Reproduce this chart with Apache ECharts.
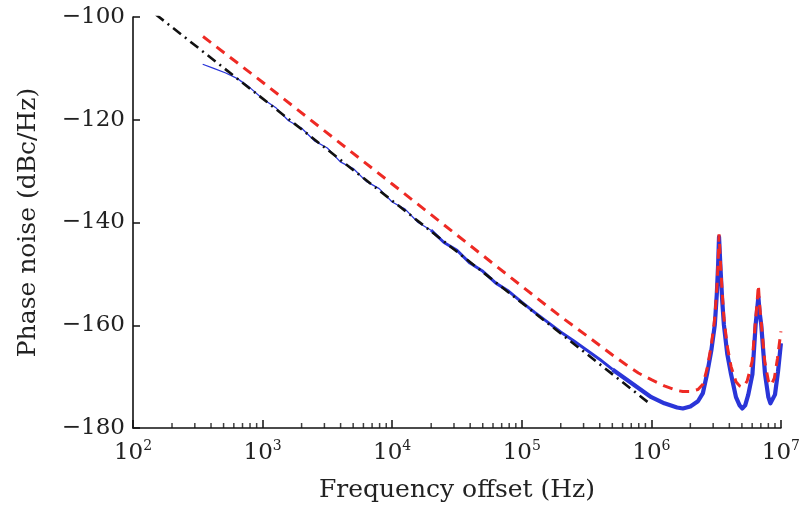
<!DOCTYPE html>
<html>
<head>
<meta charset="utf-8">
<script src="https://cdn.jsdelivr.net/npm/echarts@6/dist/echarts.min.js"></script>
<style>html,body{margin:0;padding:0;background:#fff}#c{width:803px;height:508px}</style>
</head>
<body>
<div id="c"></div>
<script>
// ---- data ----
const xExponents = [2, 3, 4, 5, 6, 7];
const yTicks = [-100, -120, -140, -160, -180];
const xTitle = 'Frequency offset (Hz)';
const yTitle = 'Phase noise (dBc/Hz)';

// black dash-dot asymptote
const asymFreq = [150, 1.0e6];
const asymVal  = [-99.5, -175.5];

// blue measured (thin part)
const blueAFreq = [345, 420, 520, 640, 794, 1000, 1259, 1585, 1995, 2512, 3162, 3981, 5012, 6310, 7943, 10000, 12589, 15849, 19953];
const blueAVal  = [-109.2, -110.0, -110.9, -112.0, -113.7, -115.9, -117.6, -120.2, -121.6, -124.1, -125.5, -128.2, -129.5, -132.0, -133.4, -136.0, -137.4, -140.0, -141.5];
// blue measured (medium part)
const blueBFreq = [19953, 25119, 31623, 39811, 50119, 63096, 79433, 1.0e5, 1.259e5, 1.585e5, 1.995e5, 2.512e5, 3.162e5, 3.981e5, 5.012e5];
const blueBVal  = [-141.5, -143.9, -145.4, -147.9, -149.5, -151.8, -153.4, -155.5, -157.5, -159.4, -161.3, -163.0, -164.8, -166.6, -168.6];
// blue measured (dense part, floor and spurs)
const blueCFreq = [5.012e5, 6.31e5, 7.943e5, 1.0e6, 1.26e6, 1.58e6, 1.75e6, 2.0e6, 2.29e6, 2.5e6, 2.69e6, 2.9e6, 3.09e6, 3.2e6, 3.28e6, 3.33e6, 3.42e6, 3.52e6, 3.63e6, 3.85e6, 4.12e6, 4.5e6, 4.8e6, 5.03e6, 5.3e6, 5.6e6, 6.03e6, 6.38e6, 6.55e6, 6.7e6, 6.85e6, 7.05e6, 7.54e6, 8.0e6, 8.3e6, 8.57e6, 9.0e6, 9.5e6, 1.0e7];
const blueCVal  = [-168.6, -170.4, -172.2, -174.0, -175.2, -176.0, -176.2, -175.8, -174.8, -173.2, -169.5, -165.0, -159.9, -154.0, -148.0, -142.8, -149.0, -155.0, -159.9, -165.5, -169.5, -174.0, -175.6, -176.2, -175.6, -173.5, -169.5, -159.9, -157.0, -154.5, -157.5, -159.9, -169.5, -174.0, -175.2, -175.5, -173.5, -169.0, -163.5];

// red dashed model
const redFreq = [347, 1000, 10000, 1.0e5, 1.995e5, 3.162e5, 3.981e5, 5.012e5, 6.31e5, 7.943e5, 1.0e6, 1.26e6, 1.58e6, 1.75e6, 2.0e6, 2.29e6, 2.5e6, 2.69e6, 2.9e6, 3.09e6, 3.2e6, 3.28e6, 3.33e6, 3.42e6, 3.52e6, 3.63e6, 3.85e6, 4.12e6, 4.5e6, 4.8e6, 5.0e6, 5.2e6, 5.5e6, 6.0e6, 6.35e6, 6.55e6, 6.7e6, 6.85e6, 7.05e6, 7.5e6, 8.0e6, 8.4e6, 8.9e6, 9.4e6, 1.0e7];
const redVal  = [-103.8, -112.7, -132.5, -152.4, -158.3, -162.0, -163.9, -165.8, -167.6, -169.3, -170.6, -171.8, -172.7, -172.9, -172.9, -172.5, -171.5, -168.5, -164.0, -158.5, -153.0, -147.5, -142.3, -148.0, -153.5, -158.5, -164.0, -168.0, -171.0, -171.8, -172.0, -171.8, -170.8, -167.0, -159.5, -155.5, -152.2, -156.0, -159.5, -167.0, -170.8, -171.7, -170.3, -166.5, -161.2];

// minor tick positions on the log axis
const minorMult = [2, 3, 4, 5, 6, 7, 8, 9];

// ---- build ----
const zip = (a, b) => a.map((v, i) => [v, b[i]]);
const minorTicks = [];
xExponents.slice(0, -1).forEach(e => minorMult.forEach(m => minorTicks.push([m * Math.pow(10, e), yTicks[yTicks.length - 1]])));

const FONT = 'DejaVu Serif';
const TXT = '#222';
const BLUE = '#2a35d8';
const chart = echarts.init(document.getElementById('c'), null, {renderer: 'canvas'});
chart.setOption({
  animation: false,
  backgroundColor: '#fff',
  grid: {left: 133, right: 20, top: 17, bottom: 73, containLabel: false},
  xAxis: {
    type: 'log', logBase: 10, min: 100, max: 1e7,
    axisLine: {show: true, onZero: false, lineStyle: {color: '#111', width: 1.6}},
    axisTick: {show: true, inside: true, length: 8, lineStyle: {color: '#111', width: 1.5}},
    splitLine: {show: false},
    axisLabel: {
      margin: 11,
      formatter: v => '{b|10}{s|' + Math.round(Math.log10(v)) + '}',
      rich: {
        b: {fontFamily: FONT, fontSize: 23, color: TXT},
        s: {fontFamily: FONT, fontSize: 14, color: TXT, padding: [0, 0, 14, 0]}
      }
    },
    name: xTitle, nameLocation: 'middle', nameGap: 50,
    nameTextStyle: {fontFamily: FONT, fontSize: 25, color: TXT}
  },
  yAxis: {
    type: 'value', min: -180, max: -100, interval: 20,
    axisLine: {show: true, lineStyle: {color: '#111', width: 1.6}},
    axisTick: {show: true, inside: true, length: 7, lineStyle: {color: '#111', width: 1.5}},
    splitLine: {show: false},
    axisLabel: {
      margin: 8, fontFamily: FONT, fontSize: 23, color: TXT,
      formatter: v => String(v).replace('-', '\u2212')
    },
    name: yTitle, nameLocation: 'middle', nameGap: 92,
    nameTextStyle: {fontFamily: FONT, fontSize: 25, color: TXT}
  },
  series: [
    {type: 'scatter', data: minorTicks, symbol: 'rect', symbolSize: [1.5, 5], symbolOffset: [0, -2.5],
     itemStyle: {color: '#111'}, silent: true, z: 1},
    {type: 'line', data: zip(blueAFreq, blueAVal), showSymbol: false, smooth: false,
     lineStyle: {color: BLUE, width: 1.3}, z: 2},
    {type: 'line', data: zip(blueBFreq, blueBVal), showSymbol: false, smooth: false,
     lineStyle: {color: BLUE, width: 3}, z: 2},
    {type: 'line', data: zip(blueCFreq, blueCVal), showSymbol: false, smooth: false,
     lineStyle: {color: BLUE, width: 4.2, join: 'round'}, z: 2},
    {type: 'line', data: zip(asymFreq, asymVal), showSymbol: false,
     lineStyle: {color: '#111', width: 2.6, type: [10, 5, 2, 5]}, z: 3},
    {type: 'line', data: zip(redFreq, redVal), showSymbol: false, smooth: false,
     lineStyle: {color: '#ee2a24', width: 3, type: [10, 7]}, z: 4}
  ]
});
</script>
</body>
</html>
